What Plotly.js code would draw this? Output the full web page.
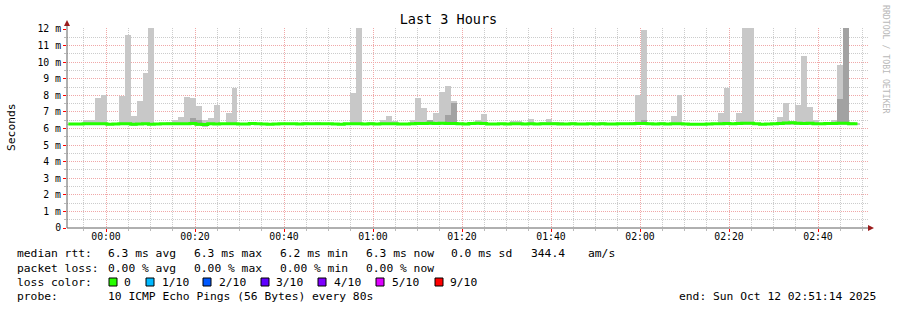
<!DOCTYPE html>
<html>
<head>
<meta charset="utf-8">
<script src="https://cdn.plot.ly/plotly-3.0.1.min.js"></script>
<style>
  html, body { margin: 0; padding: 0; background: #ffffff; }
  #chart { width: 897px; height: 310px; }
</style>
</head>
<body>
<div id="chart"></div>
<script>
// ---- data ----
// 80 s steps, first step starts 23:50:52 (UTC shown as local)
const firstStepStart = '2025-10-11T23:50:52Z';
const stepSeconds = 80;
const graphStart = '2025-10-11T23:51:14Z';
const graphEnd = '2025-10-12T02:51:14Z';

// upper edge of the smoke (max ping) per step, ms
const smokeMax = [
  6.3, 6.3, 6.3, 6.5, 6.5, 7.84, 8.02, 6.3, 6.3, 7.98,
  11.64, 6.75, 7.66, 9.35, 12.06, 6.3, 6.3, 6.4, 6.5, 6.7,
  7.9, 7.84, 7.36, 6.5, 6.63, 7.42, 6.3, 6.94, 8.46, 6.3,
  6.3, 6.4, 6.35, 6.3, 6.3, 6.3, 6.3, 6.3, 6.35, 6.3,
  6.4, 6.3, 6.4, 6.3, 6.35, 6.3, 6.3, 6.35, 8.14, 12.06,
  6.3, 6.4, 6.3, 6.5, 6.75, 6.45, 6.3, 6.3, 6.5, 7.84,
  7.24, 6.5, 6.94, 8.2, 8.56, 7.66, 6.35, 6.3, 6.3, 6.5,
  6.9, 6.35, 6.3, 6.35, 6.35, 6.48, 6.48, 6.3, 6.55, 6.3,
  6.4, 6.55, 6.4, 6.4, 6.3, 6.4, 6.3, 6.3, 6.3, 6.3,
  6.4, 6.3, 6.3, 6.3, 6.3, 6.4, 8.04, 11.96, 6.3, 6.3,
  6.4, 6.35, 6.75, 8.02, 6.35, 6.3, 6.3, 6.3, 6.3, 6.35,
  6.94, 8.46, 6.3, 6.94, 12.06, 12.06, 6.35, 6.3, 6.3, 6.35,
  6.7, 7.54, 6.45, 7.42, 10.37, 7.3, 6.5, 6.3, 6.4, 6.5,
  9.85, 12.06, 6.4, 6.35
];
// lower edge of the smoke (min ping) per step
const smokeMin = [
  6.2, 6.2, 6.2, 6.2, 6.2, 6.2, 6.2, 6.2, 6.2, 6.2,
  6.2, 6.18, 6.2, 6.2, 6.2, 6.2, 6.2, 6.2, 6.2, 6.2,
  6.2, 6.2, 6.15, 6.1, 6.2, 6.2, 6.2, 6.2, 6.2, 6.2,
  6.2, 6.2, 6.2, 6.2, 6.2, 6.2, 6.2, 6.2, 6.2, 6.2,
  6.2, 6.2, 6.2, 6.2, 6.2, 6.2, 6.2, 6.2, 6.2, 6.2,
  6.2, 6.2, 6.2, 6.2, 6.2, 6.2, 6.2, 6.2, 6.2, 6.2,
  6.2, 6.2, 6.2, 6.2, 6.2, 6.2, 6.2, 6.2, 6.2, 6.2,
  6.2, 6.2, 6.2, 6.2, 6.2, 6.2, 6.2, 6.2, 6.2, 6.2,
  6.2, 6.2, 6.2, 6.2, 6.2, 6.2, 6.2, 6.2, 6.2, 6.2,
  6.2, 6.2, 6.2, 6.2, 6.2, 6.2, 6.2, 6.2, 6.2, 6.2,
  6.2, 6.2, 6.2, 6.2, 6.2, 6.2, 6.2, 6.2, 6.2, 6.2,
  6.2, 6.2, 6.2, 6.2, 6.2, 6.2, 6.2, 6.2, 6.2, 6.2,
  6.2, 6.2, 6.2, 6.2, 6.2, 6.2, 6.2, 6.2, 6.2, 6.2,
  6.2, 6.2, 6.2, 6.2
];
// inner (darker) smoke band: step index, bottom, top
const darkSteps = [21, 22, 31, 61, 63, 64, 65, 97, 130, 131];
const darkMin   = [6.25, 6.25, 6.25, 6.25, 6.25, 6.25, 6.25, 6.25, 6.25, 6.25];
const darkMax   = [6.63, 6.5, 6.38, 6.5, 6.4, 6.8, 7.54, 6.5, 7.78, 12.06];
// median rtt per step
const medianRtt = [
  6.27, 6.27, 6.27, 6.28, 6.28, 6.28, 6.28, 6.26, 6.27, 6.28,
  6.28, 6.25, 6.27, 6.28, 6.26, 6.27, 6.28, 6.28, 6.28, 6.29,
  6.29, 6.3, 6.25, 6.24, 6.28, 6.27, 6.28, 6.28, 6.28, 6.27,
  6.27, 6.3, 6.28, 6.27, 6.26, 6.27, 6.28, 6.28, 6.28, 6.27,
  6.28, 6.28, 6.29, 6.28, 6.28, 6.27, 6.26, 6.28, 6.28, 6.28,
  6.27, 6.28, 6.27, 6.28, 6.29, 6.28, 6.27, 6.27, 6.28, 6.3,
  6.3, 6.31, 6.3, 6.31, 6.3, 6.3, 6.28, 6.27, 6.3, 6.32,
  6.3, 6.27, 6.27, 6.28, 6.27, 6.28, 6.28, 6.27, 6.28, 6.27,
  6.28, 6.28, 6.28, 6.27, 6.27, 6.28, 6.27, 6.27, 6.28, 6.27,
  6.28, 6.27, 6.27, 6.28, 6.28, 6.29, 6.3, 6.3, 6.28, 6.27,
  6.28, 6.27, 6.28, 6.28, 6.27, 6.26, 6.26, 6.26, 6.27, 6.28,
  6.29, 6.3, 6.28, 6.3, 6.31, 6.31, 6.28, 6.26, 6.27, 6.29,
  6.3, 6.33, 6.35, 6.32, 6.3, 6.31, 6.28, 6.29, 6.3, 6.3,
  6.31, 6.32, 6.29, 6.28
];
// y ticks and legend texts
const yTickVals = [0, 1, 2, 3, 4, 5, 6, 7, 8, 9, 10, 11, 12];
const yTickText = ['0', '1 m', '2 m', '3 m', '4 m', '5 m', '6 m', '7 m', '8 m', '9 m', '10 m', '11 m', '12 m'];
const lossLabels = ['0', '1/10', '2/10', '3/10', '4/10', '5/10', '9/10'];
const lossColors = ['#26ff00', '#00b8ff', '#0059ff', '#5e00ff', '#7e00ff', '#dd00ff', '#ff0000'];

// ---- geometry helpers (layout decoration only) ----
const L = 67, R = 868, T = 28, B = 228;
const px = x => (x - L) / (R - L);
const py = y => (B - y) / (B - T);
const FONT = 'DejaVu Sans Mono';

const t0 = Date.parse(firstStepStart);
const stepMs = stepSeconds * 1000;
const centers = smokeMax.map((_, i) => t0 + stepMs / 2 + stepMs * i);

const traces = [
  {
    type: 'bar', x: centers, base: smokeMin,
    y: smokeMax.map((h, i) => h - smokeMin[i]),
    width: stepMs, marker: { color: '#c8c8c8', line: { width: 0 } },
    hoverinfo: 'skip'
  },
  {
    type: 'bar', x: darkSteps.map(i => centers[i]), base: darkMin,
    y: darkMax.map((h, i) => h - darkMin[i]),
    width: stepMs, marker: { color: '#a2a2a2', line: { width: 0 } },
    hoverinfo: 'skip'
  },
  {
    type: 'scatter', mode: 'lines', x: centers, y: medianRtt,
    line: { color: lossColors[0], width: 3, shape: 'hvh' },
    hoverinfo: 'skip'
  }
];

const ann = [];
function txt(x, y, s, opts) {
  ann.push(Object.assign({
    xref: 'paper', yref: 'paper', x: px(x), y: py(y), text: s,
    showarrow: false, xanchor: 'left', yanchor: 'middle', borderpad: 0,
    font: { family: FONT, size: 11.3, color: '#000000' }
  }, opts || {}));
}
// legend rows
txt(16, 254, 'median rtt:');
txt(107, 254, '6.3 ms avg');
txt(193, 254, '6.3 ms max');
txt(279, 254, '6.2 ms min');
txt(365, 254, '6.3 ms now');
txt(450, 254, '0.0 ms sd');
txt(530, 254, '344.4');
txt(587, 254, 'am/s');
txt(16, 268, 'packet loss:');
txt(107, 268, '0.00 % avg');
txt(193, 268, '0.00 % max');
txt(279, 268, '0.00 % min');
txt(365, 268, '0.00 % now');
txt(16, 282, 'loss color:');
const lossLabelX = [123, 161, 218, 275, 333, 391, 449];
const lossBoxX = [109, 146, 203, 261, 318, 376, 435];
lossLabels.forEach((s, i) => txt(lossLabelX[i], 282, s));
txt(16, 296, 'probe:');
txt(107, 296, '10 ICMP Echo Pings (56 Bytes) every 80s');
txt(678, 296, 'end: Sun Oct 12 02:51:14 2025');
// y axis title
txt(11, 127, 'Seconds', { xanchor: 'center', textangle: -90, font: { family: FONT, size: 11.3, color: '#000' } });
// watermark
txt(886, 59, 'RRDTOOL / TOBI OETIKER', { xanchor: 'center', textangle: 90, font: { family: FONT, size: 8.2, color: '#b8b8b8' } });

const shapes = [];
lossColors.forEach((c, i) => shapes.push({
  type: 'rect', xref: 'paper', yref: 'paper',
  x0: px(lossBoxX[i]), x1: px(lossBoxX[i] + 8), y0: py(278), y1: py(286),
  fillcolor: c, line: { color: '#000000', width: 1 }
}));
// axis extensions + arrows
shapes.push({ type: 'line', xref: 'paper', yref: 'paper', x0: px(67), x1: px(67), y0: py(228), y1: py(24), line: { color: '#606060', width: 1 } });
shapes.push({ type: 'line', xref: 'paper', yref: 'paper', x0: px(67), x1: px(870), y0: py(228), y1: py(228), line: { color: '#606060', width: 1 } });
shapes.push({ type: 'path', xref: 'paper', yref: 'paper',
  path: `M ${px(64)} ${py(26)} L ${px(70)} ${py(26)} L ${px(67)} ${py(20)} Z`,
  fillcolor: '#9b1c1c', line: { width: 0 } });
shapes.push({ type: 'path', xref: 'paper', yref: 'paper',
  path: `M ${px(868)} ${py(225)} L ${px(868)} ${py(231)} L ${px(874)} ${py(228)} Z`,
  fillcolor: '#9b1c1c', line: { width: 0 } });

const layout = {
  width: 897, height: 310,
  margin: { l: L, r: 897 - R, t: T, b: 310 - B, pad: 0 },
  paper_bgcolor: '#ffffff', plot_bgcolor: '#ffffff',
  showlegend: false, barmode: 'overlay', bargap: 0,
  title: { text: 'Last 3 Hours', font: { family: FONT, size: 13.5, color: '#000' },
           xref: 'container', x: 0.5, xanchor: 'center', yref: 'container', y: 1 - 19 / 310, yanchor: 'middle' },
  xaxis: {
    type: 'date', range: [Date.parse(graphStart), Date.parse(graphEnd)],
    tick0: Date.parse('2025-10-12T00:00:00Z'), dtick: 20 * 60 * 1000, tickformat: '%H:%M',
    showgrid: true, gridcolor: '#f0a8a8', griddash: '1px,1px', gridwidth: 1,
    minor: { dtick: 5 * 60 * 1000, showgrid: true, gridcolor: '#cccccc', griddash: '1px,1px', ticks: 'outside', ticklen: 2, tickcolor: '#bbbbbb' },
    ticks: 'outside', ticklen: 3, tickcolor: '#ff0000', ticklabelstandoff: -4,
    tickfont: { family: FONT, size: 9.8, color: '#000' },
    showline: false, zeroline: false, fixedrange: true
  },
  yaxis: {
    range: [0, 12.06], tickvals: yTickVals, ticktext: yTickText,
    showgrid: true, gridcolor: '#f0a8a8', griddash: '1px,1px', gridwidth: 1,
    minor: { dtick: 0.5, showgrid: true, gridcolor: '#cccccc', griddash: '1px,1px', ticks: 'outside', ticklen: 2, tickcolor: '#bbbbbb' },
    ticks: 'outside', ticklen: 3, tickcolor: '#ff0000',
    tickfont: { family: FONT, size: 9.8, color: '#000' },
    showline: false, zeroline: false, fixedrange: true
  },
  annotations: ann,
  shapes: shapes
};

Plotly.newPlot('chart', traces, layout, { displayModeBar: false, staticPlot: true });
</script>
</body>
</html>
